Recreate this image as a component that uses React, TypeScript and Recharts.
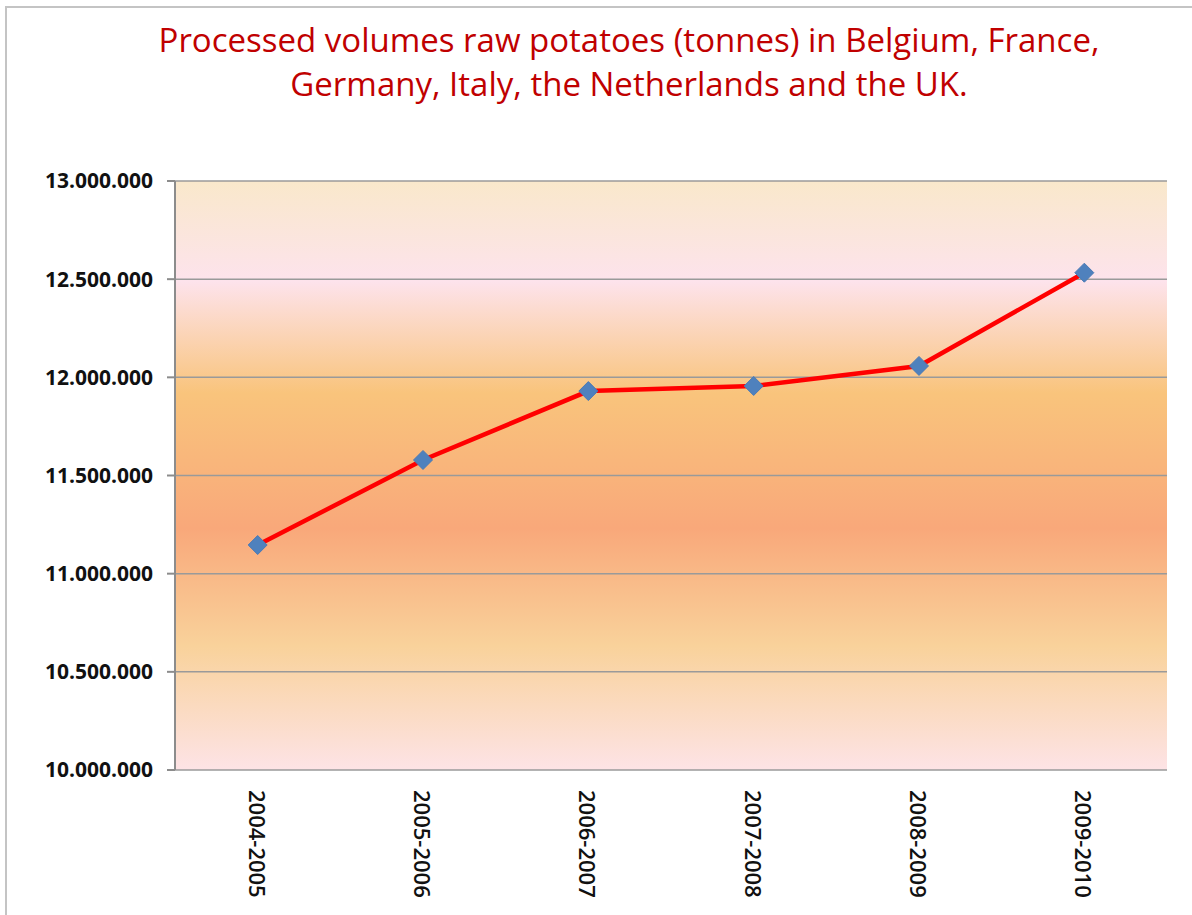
import { LineChart, Line, XAxis, YAxis, CartesianGrid } from "recharts";

const seasons = ["2004-2005", "2005-2006", "2006-2007", "2007-2008", "2008-2009", "2009-2010"];
const volumes = [11146000, 11579000, 11930000, 11956000, 12058000, 12533000];
const yTicks = [10000000, 10500000, 11000000, 11500000, 12000000, 12500000, 13000000];
const edgeTicks = [0, 1, 2, 3, 4, 5, 6];

const data = seasons.map((season, i) => ({ season, volume: volumes[i] }));

const FONT = "'Open Sans', 'Noto Sans', sans-serif";

const fmt = (v: number) => v.toLocaleString("en-US").replace(/,/g, ".");

function SeasonTick({ x, y, payload }: any) {
  return (
    <text
      x={x}
      y={y}
      transform={`rotate(90, ${x}, ${y})`}
      dx={12}
      dy={0}
      textAnchor="start"
      dominantBaseline="central"
      fontFamily={FONT}
      fontSize={22}
      fontWeight={600}
      fill="#111"
    >
      {payload.value}
    </text>
  );
}

function Diamond({ cx, cy }: any) {
  if (cx == null || cy == null) return null;
  const r = 9.5;
  return (
    <path
      d={`M${cx},${cy - r} L${cx + r},${cy} L${cx},${cy + r} L${cx - r},${cy} Z`}
      fill="#4f81bd"
      stroke="#4a7ab5"
      strokeWidth={1}
    />
  );
}

export default function App() {
  return (
    <div style={{ position: "absolute", left: 0, top: 0, width: 1192, height: 915, background: "#fff" }}>
      <div
        style={{
          position: "absolute",
          left: 5,
          top: 6,
          right: 0,
          bottom: 0,
          borderLeft: "2px solid #c4c4c4",
          borderTop: "2px solid #c4c4c4",
        }}
      />
      <div
        style={{
          position: "absolute",
          left: 129,
          top: 18,
          width: 1000,
          textAlign: "center",
          fontFamily: FONT,
          fontSize: 33,
          lineHeight: "44px",
          color: "#c00000",
        }}
      >
        Processed volumes raw potatoes (tonnes) in Belgium, France,
        <br />
        Germany, Italy, the Netherlands and the UK.
      </div>
      <div style={{ position: "absolute", left: 0, top: 0 }}>
        <LineChart
          width={1192}
          height={915}
          data={data}
          margin={{ top: 181, right: 25, bottom: 0, left: 0 }}
        >
          <defs>
            <linearGradient id="bg" x1="0" y1="0" x2="0" y2="1">
              <stop offset="0%" stopColor="#f9e8cb" />
              <stop offset="17%" stopColor="#fde3ec" />
              <stop offset="36%" stopColor="#f9c47c" />
              <stop offset="59%" stopColor="#f9a87a" />
              <stop offset="79%" stopColor="#f9d29b" />
              <stop offset="100%" stopColor="#fde3e6" />
            </linearGradient>
          </defs>
          <CartesianGrid
            xAxisId="cat"
            vertical={false}
            stroke="#9a9a9a"
            strokeWidth={1.5}
            fill="url(#bg)"
            fillOpacity={1}
          />
          <XAxis
            xAxisId="edges"
            type="number"
            domain={[0, 6]}
            ticks={edgeTicks}
            tick={false}
            height={0}
            tickSize={8}
            axisLine={{ stroke: "#8c8c8c", strokeWidth: 2 }}
            tickLine={{ stroke: "#8c8c8c", strokeWidth: 2 }}
          />
          <XAxis
            xAxisId="cat"
            dataKey="season"
            scale="band"
            height={145}
            axisLine={false}
            tickLine={false}
            interval={0}
            tick={<SeasonTick />}
          />
          <YAxis
            width={175}
            domain={[10000000, 13000000]}
            ticks={yTicks}
            tickFormatter={fmt}
            tickSize={8}
            tickMargin={14}
            axisLine={{ stroke: "#8c8c8c", strokeWidth: 2 }}
            tickLine={{ stroke: "#8c8c8c", strokeWidth: 2 }}
            tick={{ fill: "#111", fontSize: 21, fontWeight: 700, fontFamily: FONT }}
          />
          <Line
            xAxisId="cat"
            dataKey="volume"
            stroke="#ff0000"
            strokeWidth={4.5}
            dot={<Diamond />}
            activeDot={false}
            isAnimationActive={false}
          />
        </LineChart>
      </div>
    </div>
  );
}
